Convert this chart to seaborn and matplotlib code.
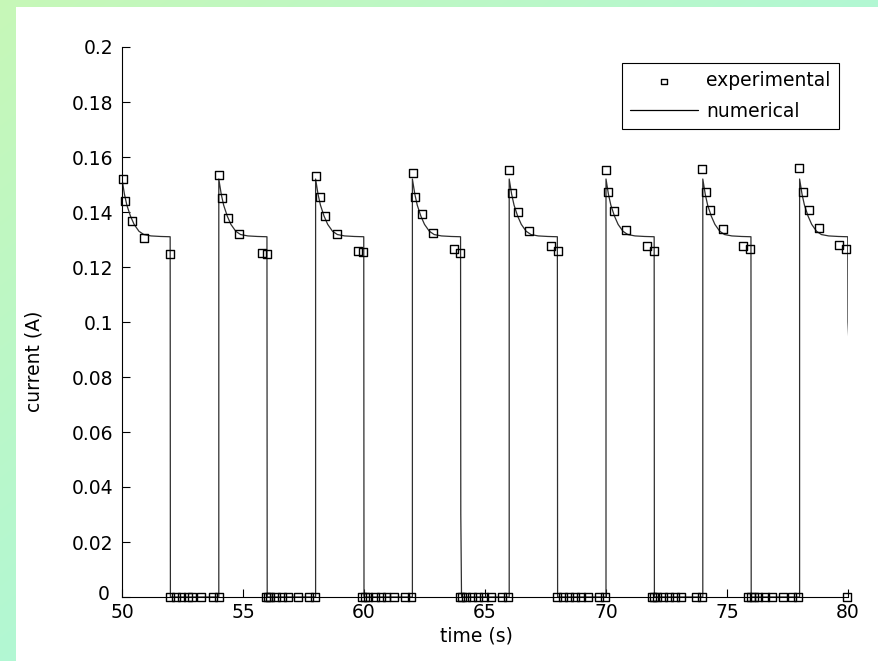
import numpy as np
import pandas as pd
import matplotlib
matplotlib.use("Agg")
import matplotlib.pyplot as plt
from matplotlib.patches import Rectangle
from matplotlib.transforms import ScaledTranslation
import seaborn as sns

# ---------------- data ----------------
PULSE_STARTS = [50, 54, 58, 62, 66, 70, 74, 78]
PULSE_LENGTH = 2.0
# numerical current during one "on" period (offset from pulse start, A)
NUM_OFFSETS = [0.0, 0.0, 0.1, 0.2, 0.35, 0.5, 0.7, 0.9, 1.2, 1.6, 1.99]
NUM_VALUES = [0.0, 0.152, 0.1465, 0.1425, 0.1385, 0.1355, 0.133, 0.1318, 0.1313, 0.1311, 0.131]
# value where the falling edge bends (0 = straight drop)
FALL_MID = [0, 0, 0, 0.03, 0, 0, 0, 0.10]
FALL_TAIL = [0, 0, 0, 0.03, 0, 0, 0, 0.5]

exp_on_time = [
    [50.03, 50.14, 50.41, 50.91, 52.00],
    [54.00, 54.13, 54.38, 54.83, 55.78, 55.99],
    [58.02, 58.18, 58.39, 58.88, 59.75, 59.96],
    [62.01, 62.12, 62.41, 62.84, 63.72, 63.95],
    [65.99, 66.12, 66.36, 66.82, 67.73, 68.02],
    [70.00, 70.08, 70.33, 70.83, 71.69, 71.98],
    [73.97, 74.13, 74.30, 74.83, 75.66, 75.95],
    [77.99, 78.13, 78.38, 78.80, 79.63, 79.92],
]
exp_on_current = [
    [0.1519, 0.1441, 0.1368, 0.1305, 0.1246],
    [0.1535, 0.1451, 0.1378, 0.1320, 0.1251, 0.1247],
    [0.1531, 0.1455, 0.1385, 0.1320, 0.1258, 0.1255],
    [0.1543, 0.1456, 0.1392, 0.1325, 0.1264, 0.1251],
    [0.1553, 0.1469, 0.1400, 0.1331, 0.1276, 0.1258],
    [0.1553, 0.1473, 0.1404, 0.1335, 0.1276, 0.1258],
    [0.1556, 0.1473, 0.1407, 0.1338, 0.1276, 0.1265],
    [0.1559, 0.1474, 0.1407, 0.1343, 0.1280, 0.1264],
]
exp_off_time = [
    [51.98, 52.22, 52.46, 52.71, 52.90, 53.27, 53.76, 54.01],
    [55.95, 56.02, 56.10, 56.38, 56.62, 56.87, 57.29, 57.74, 57.99],
    [59.93, 60.05, 60.15, 60.45, 60.70, 60.93, 61.25, 61.70, 61.96],
    [63.97, 64.05, 64.20, 64.45, 64.70, 64.95, 65.25, 65.70, 65.95],
    [67.96, 68.21, 68.46, 68.71, 68.95, 69.25, 69.72, 69.97],
    [71.90, 72.00, 72.10, 72.35, 72.60, 72.85, 73.10, 73.72, 73.97],
    [75.85, 76.00, 76.10, 76.30, 76.57, 76.85, 77.30, 77.70, 77.95],
    [79.97],
]

X_TICKS = [50, 55, 60, 65, 70, 75, 80]
Y_TICKS = [0, 0.02, 0.04, 0.06, 0.08, 0.1, 0.12, 0.14, 0.16, 0.18, 0.2]
Y_TICK_LABELS = ["0", "0.02", "0.04", "0.06", "0.08", "0.1", "0.12", "0.14", "0.16", "0.18", "0.2"]

# ---------------- build tables ----------------
num_t, num_i = [], []
for t0, mid, tail in zip(PULSE_STARTS, FALL_MID, FALL_TAIL):
    for off, val in zip(NUM_OFFSETS, NUM_VALUES):
        num_t.append(t0 + off)
        num_i.append(val)
    if mid > 0:
        num_t += [t0 + PULSE_LENGTH, t0 + PULSE_LENGTH + tail]
        num_i += [mid, 0.0]
    else:
        num_t.append(t0 + PULSE_LENGTH)
        num_i.append(0.0)
num_df = pd.DataFrame({"time": num_t, "current": num_i})

exp_t, exp_i = [], []
for ts, vs in zip(exp_on_time, exp_on_current):
    exp_t += ts
    exp_i += vs
for ts in exp_off_time:
    exp_t += ts
    exp_i += [0.0] * len(ts)
exp_df = pd.DataFrame({"time": exp_t, "current": exp_i})

# ---------------- style ----------------
sns.set_theme(style="white")
plt.rcParams["font.family"] = ["DejaVu Sans"]
plt.rcParams["axes.edgecolor"] = "black"
plt.rcParams["text.color"] = "black"
plt.rcParams["axes.labelcolor"] = "black"
plt.rcParams["xtick.color"] = "black"
plt.rcParams["ytick.color"] = "black"

FS = 13.5
W, H = 879, 661
fig = plt.figure(figsize=(W / 100, H / 100), dpi=100)

# green gradient frame
bg = fig.add_axes([0, 0, 1, 1], zorder=-10)
yy, xx = np.mgrid[0:H, 0:W]
tt = np.clip(0.9 * xx / W + 0.9 * yy / H, 0, 1)[..., None]
c0 = np.array([0.78, 0.97, 0.72])
c1 = np.array([0.69, 0.97, 0.84])
bg.imshow(c0 + (c1 - c0) * tt, extent=[0, W, H, 0], aspect="auto")
bg.add_patch(Rectangle((16, 7), W, H, facecolor="white", edgecolor="none"))
bg.set_xlim(0, W)
bg.set_ylim(H, 0)
bg.axis("off")

ax = fig.add_axes([122 / W, 1 - 597 / H, 726 / W, 550 / H])
ax.set_facecolor("white")

sns.lineplot(data=num_df, x="time", y="current", sort=False, estimator=None,
             color="#2e2e2e", linewidth=0.9, ax=ax, label="numerical", zorder=2)
sns.scatterplot(data=exp_df, x="time", y="current", marker="s", s=32,
                color="black", edgecolor="black", linewidth=1.0,
                ax=ax, label="experimental", zorder=3, clip_on=False)
for coll in ax.collections:
    coll.set_facecolor("none")
    coll.set_edgecolor("black")

ax.set_xlim(50, 80)
ax.set_ylim(0, 0.2)
ax.set_xticks(X_TICKS)
ax.set_xticklabels([str(v) for v in X_TICKS])
ax.set_yticks(Y_TICKS)
ax.set_yticklabels(Y_TICK_LABELS)
ax.tick_params(axis="both", direction="in", length=5.5, width=0.8, labelsize=FS,
               bottom=True, left=True, top=False, right=False)
ax.tick_params(axis="x", pad=4)
ax.tick_params(axis="y", pad=6)
for side in ["top", "right"]:
    ax.spines[side].set_visible(False)
for side in ["left", "bottom"]:
    ax.spines[side].set_linewidth(0.8)
    ax.spines[side].set_color("black")

# nudge the "0" y tick label so it clears the "50" x tick label
zero_lab = ax.yaxis.get_major_ticks()[0].label1
zero_lab.set_transform(zero_lab.get_transform() +
                       ScaledTranslation(-4 / 100, 5 / 100, fig.dpi_scale_trans))

ax.set_xlabel("time (s)", fontsize=FS)
ax.set_ylabel("current (A)", fontsize=FS)
ax.xaxis.set_label_coords((476 - 122) / 726, (597 - 627) / 550)
ax.yaxis.set_label_coords((43 - 122) / 726, (597 - 361) / 550)

handles, labels = ax.get_legend_handles_labels()
order = [labels.index("experimental"), labels.index("numerical")]
leg = ax.legend([handles[i] for i in order], [labels[i] for i in order],
                loc="upper right", bbox_to_anchor=((839 - 122) / 726, (597 - 63) / 550),
                borderaxespad=0, frameon=True, fancybox=False, framealpha=1,
                edgecolor="black", fontsize=FS, handlelength=3.6,
                handletextpad=0.45, labelspacing=0.6, borderpad=0.45,
                markerscale=0.75)
leg.get_frame().set_linewidth(0.8)
leg.get_lines()[0].set_color("black") if leg.get_lines() else None

fig.savefig("out.png", dpi=100)
